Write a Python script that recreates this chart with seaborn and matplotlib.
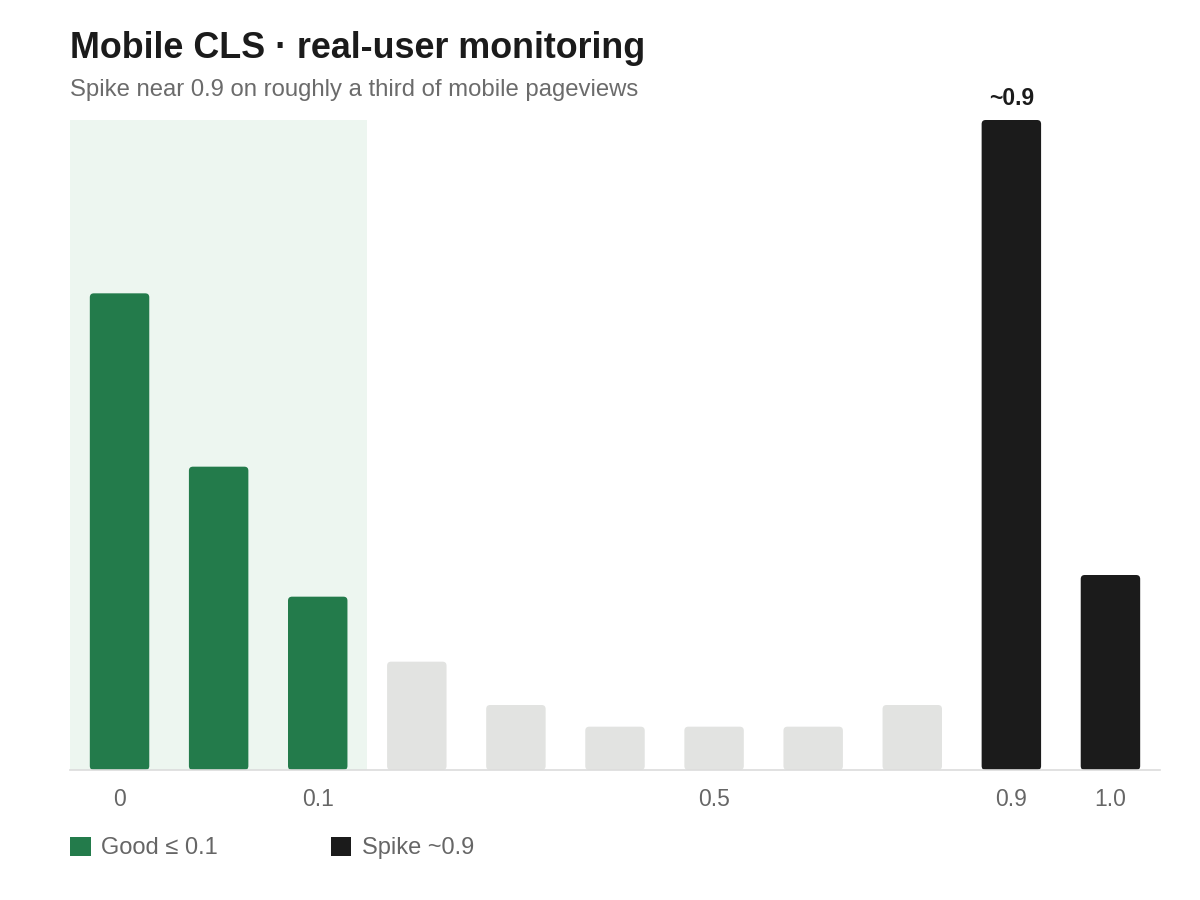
import matplotlib
matplotlib.use("Agg")
import matplotlib.pyplot as plt
import seaborn as sns
import pandas as pd
from matplotlib.patches import FancyBboxPatch, Patch

bins = ["b0", "b1", "b2", "b3", "b4", "b5", "b6", "b7", "b8", "b9", "b10"]
share = [22, 14, 8, 5, 3, 2, 2, 2, 3, 30, 9]
group = ["good", "good", "good", "mid", "mid", "mid", "mid", "mid", "mid", "spike", "spike"]
tick_labels = ["0", "", "0.1", "", "", "", "0.5", "", "", "0.9", "1.0"]

GREEN = "#237b4b"
GRAY = "#e2e3e1"
BLACK = "#1b1b1b"
palette = {"good": GREEN, "mid": GRAY, "spike": BLACK}

sns.set_theme(style="white")
plt.rcParams["font.family"] = ["Liberation Sans", "DejaVu Sans"]

df = pd.DataFrame({"bin": bins, "share": share, "group": group})

fig = plt.figure(figsize=(12, 9), dpi=100)
ax = fig.add_axes([70 / 1200, 130 / 900, 1090 / 1200, 650 / 900])

sns.barplot(data=df, x="bin", y="share", hue="group", palette=palette,
            width=0.6, dodge=False, legend=False, saturation=1, ax=ax, zorder=2)

ax.set_xlim(-0.5, len(bins) - 0.5)
ax.set_ylim(0, 30)

# rounded bars
px_x = 1090 / 11
aspect = (30 / 650) / (1 / px_x)
for p in list(ax.patches):
    if p.get_height() <= 0:
        continue
    x, y = p.get_x(), p.get_y()
    w, h = p.get_width(), p.get_height()
    fc = p.get_facecolor()
    p.set_visible(False)
    r = 4 / px_x
    fb = FancyBboxPatch((x, y), w, h,
                        boxstyle=f"round,pad=0,rounding_size={r}",
                        mutation_aspect=aspect, facecolor=fc, edgecolor="none",
                        zorder=3)
    ax.add_patch(fb)

ax.axvspan(-0.5, 2.5, color="#edf6f0", zorder=0, lw=0)

for s in ["top", "right", "left"]:
    ax.spines[s].set_visible(False)
ax.spines["bottom"].set_color("#dcdcdc")
ax.spines["bottom"].set_linewidth(1.2)
ax.spines["bottom"].set_zorder(4)

ax.set_xticks(range(len(bins)))
ax.set_xticklabels(tick_labels, fontsize=16.5, color="#666666")
ax.tick_params(axis="x", length=0, pad=13)
ax.set_yticks([])
ax.set_xlabel("")
ax.set_ylabel("")

# annotation on spike
ax.annotate("~0.9", xy=(9, 30), xytext=(0, 7), textcoords="offset points",
            ha="center", va="bottom", fontsize=16.5, fontweight="bold",
            color="#1b1b1b", annotation_clip=False)

fig.text(70 / 1200, 1 - 49 / 900, "Mobile CLS · real-user monitoring",
         fontsize=25.8, fontweight="bold", color="#1b1b1b", va="center", ha="left")
fig.text(70 / 1200, 1 - 90 / 900, "Spike near 0.9 on roughly a third of mobile pageviews",
         fontsize=17.2, color="#6b6b6b", va="center", ha="left")

handles = [Patch(facecolor=GREEN, edgecolor="none", label="Good ≤ 0.1"),
           Patch(facecolor=BLACK, edgecolor="none", label="Spike ~0.9")]
leg = fig.legend(handles=handles, loc="center left",
                 bbox_to_anchor=(61 / 1200, 1 - 848 / 900), ncol=2, frameon=False,
                 fontsize=17, handlelength=0.85, handleheight=0.85,
                 handletextpad=0.45, columnspacing=4.8, borderaxespad=0)
for t in leg.get_texts():
    t.set_color("#666666")

fig.savefig("out.png", dpi=100)
